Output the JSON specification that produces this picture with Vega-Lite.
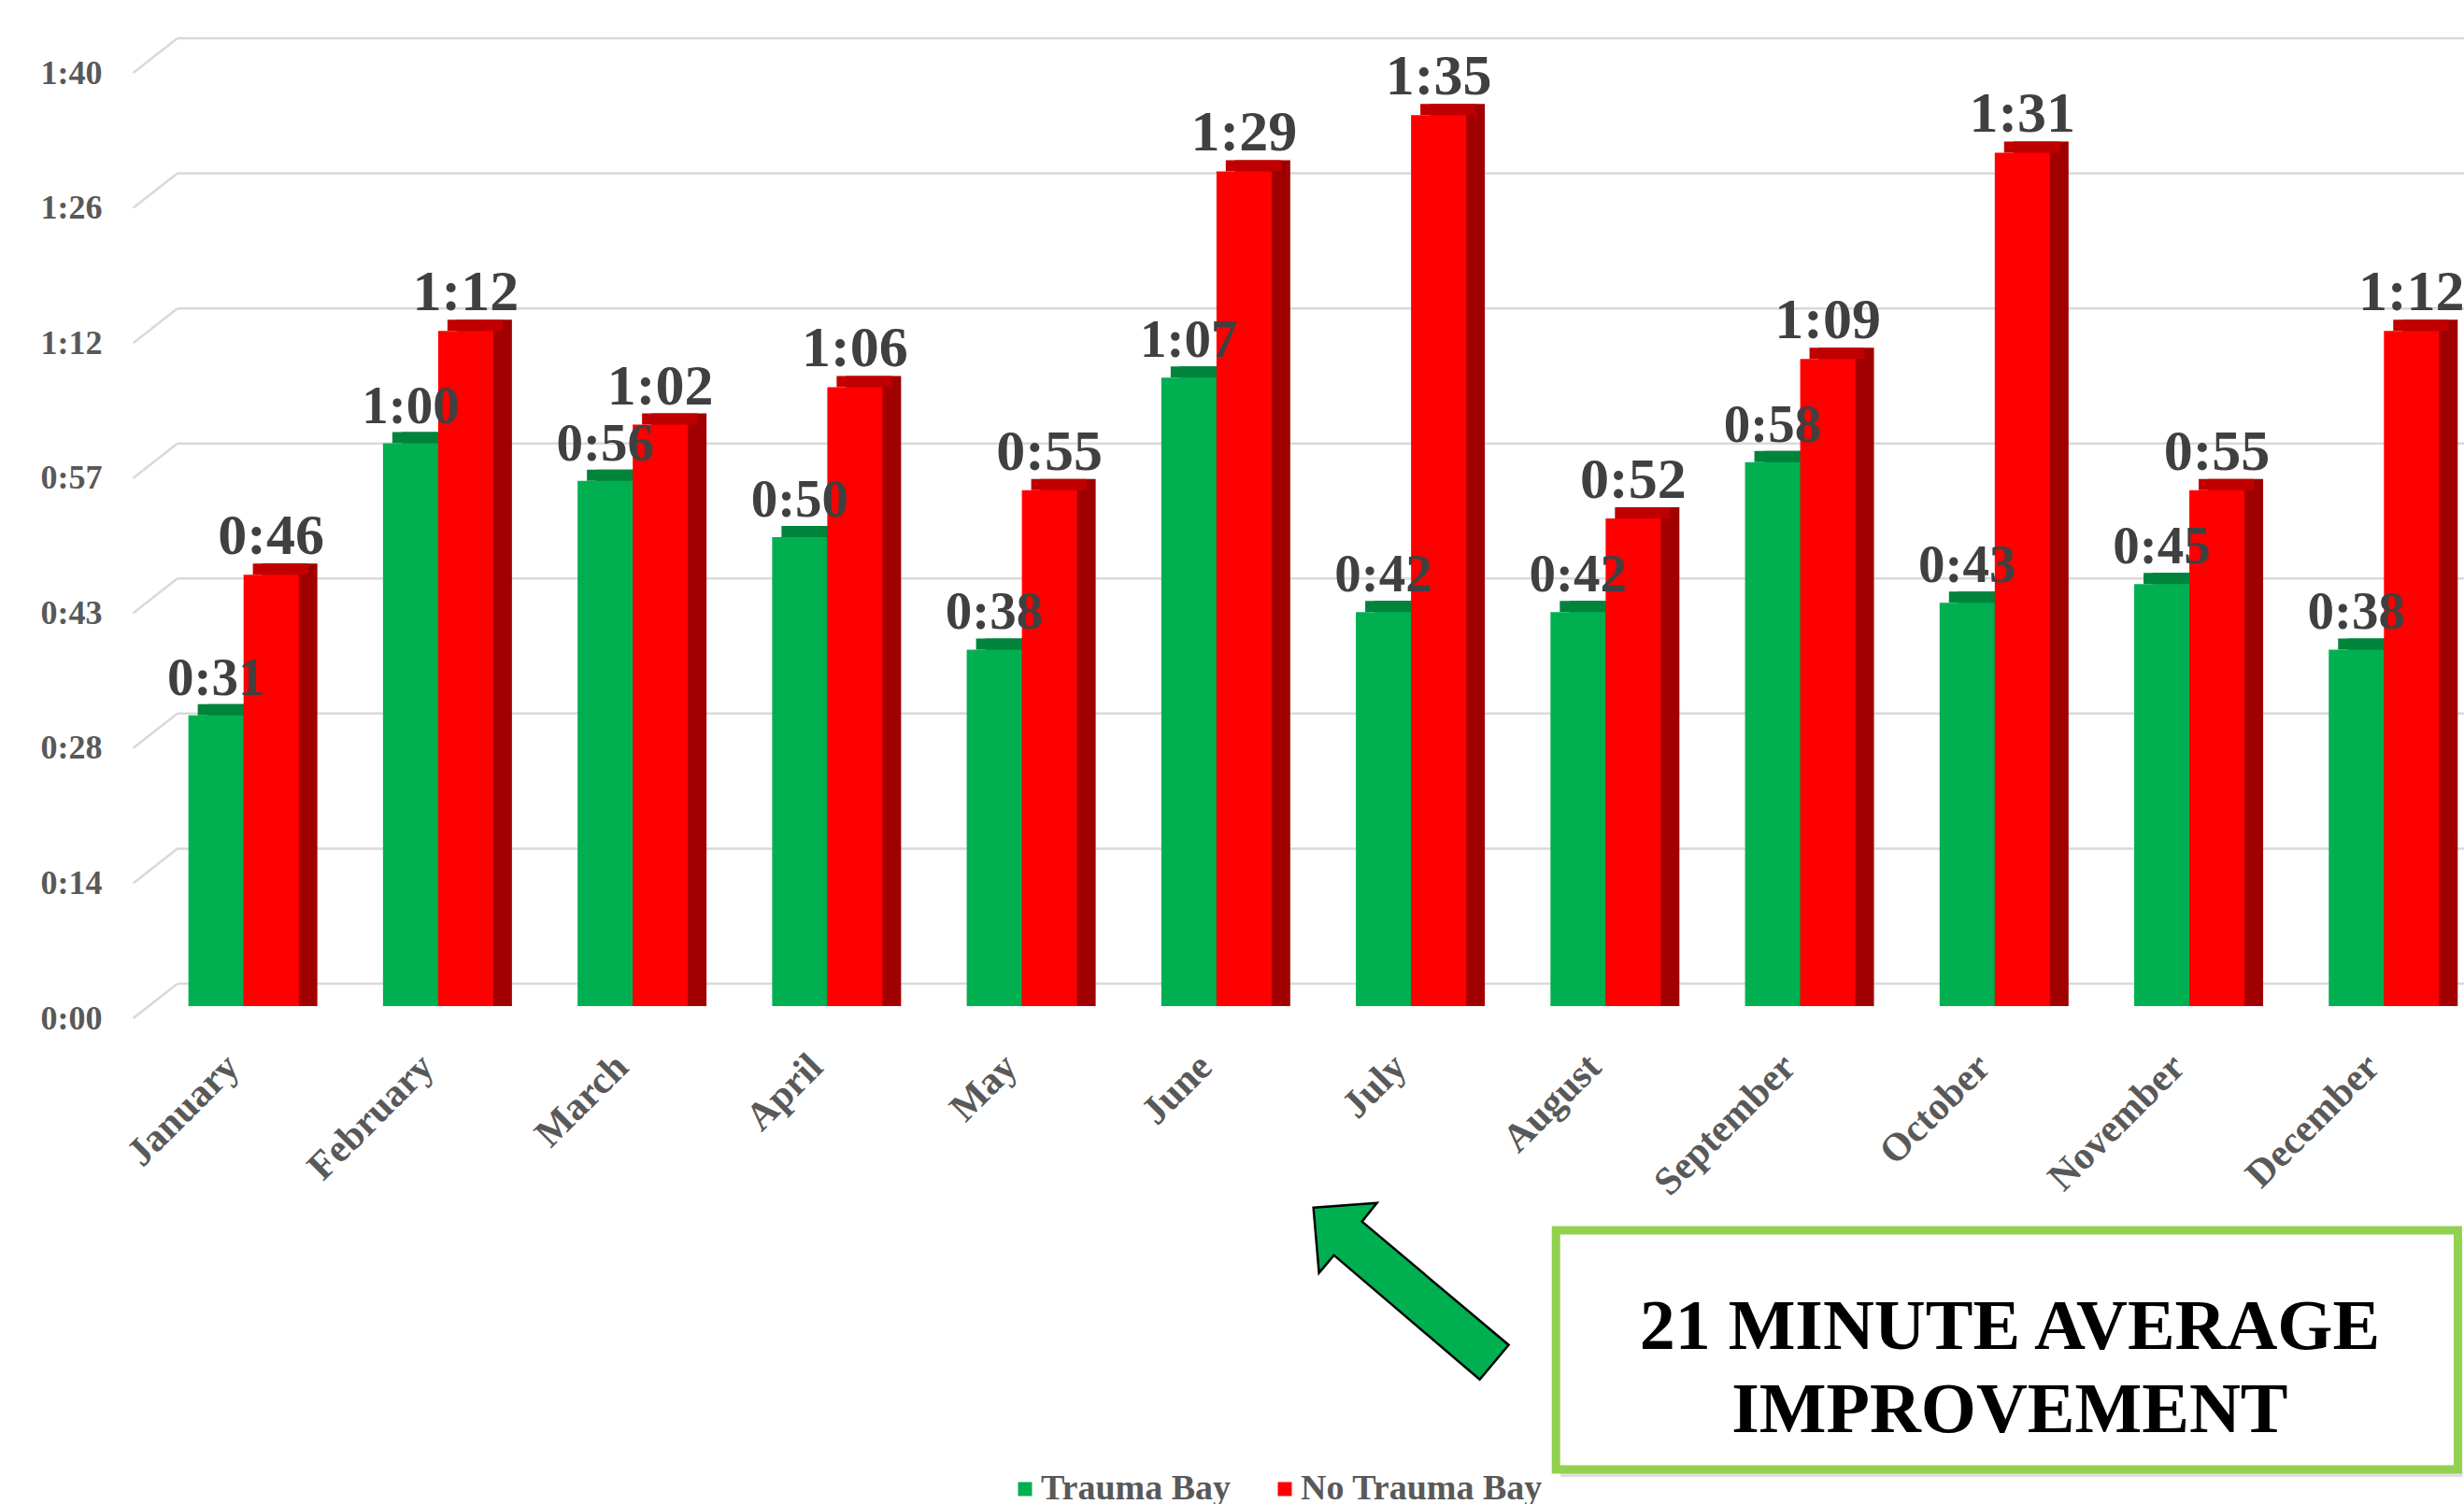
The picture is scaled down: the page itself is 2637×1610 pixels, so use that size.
{
  "$schema": "https://vega.github.io/schema/vega-lite/v6.json",
  "width": 2462,
  "height": 1012,
  "autosize": {"type": "none"},
  "padding": {"left": 175, "top": 65, "right": 0, "bottom": 533},
  "background": "white",
  "config": {
    "view": {"stroke": null},
    "font": "Liberation Serif",
    "axisX": {"labelAngle": -45, "labelFontSize": 42, "labelFontWeight": "bold", "labelColor": "#595959", "labelFont": "Liberation Serif", "domain": false, "ticks": false, "grid": false, "labelPadding": 44, "labelOffset": -26, "labelLimit": 0},
    "axisY": {"labelFontSize": 36, "labelFontWeight": "bold", "labelColor": "#595959", "labelFont": "Liberation Serif", "domain": false, "ticks": false, "grid": false, "labelPadding": 66, "labelOffset": 13}
  },
  "datasets": {
    "months": [
      {"month": "January", "series": "Trauma Bay", "minutes": 31, "label": "0:31"},
      {"month": "January", "series": "No Trauma Bay", "minutes": 46, "label": "0:46"},
      {"month": "February", "series": "Trauma Bay", "minutes": 60, "label": "1:00"},
      {"month": "February", "series": "No Trauma Bay", "minutes": 72, "label": "1:12"},
      {"month": "March", "series": "Trauma Bay", "minutes": 56, "label": "0:56"},
      {"month": "March", "series": "No Trauma Bay", "minutes": 62, "label": "1:02"},
      {"month": "April", "series": "Trauma Bay", "minutes": 50, "label": "0:50"},
      {"month": "April", "series": "No Trauma Bay", "minutes": 66, "label": "1:06"},
      {"month": "May", "series": "Trauma Bay", "minutes": 38, "label": "0:38"},
      {"month": "May", "series": "No Trauma Bay", "minutes": 55, "label": "0:55"},
      {"month": "June", "series": "Trauma Bay", "minutes": 67, "label": "1:07"},
      {"month": "June", "series": "No Trauma Bay", "minutes": 89, "label": "1:29"},
      {"month": "July", "series": "Trauma Bay", "minutes": 42, "label": "0:42"},
      {"month": "July", "series": "No Trauma Bay", "minutes": 95, "label": "1:35"},
      {"month": "August", "series": "Trauma Bay", "minutes": 42, "label": "0:42"},
      {"month": "August", "series": "No Trauma Bay", "minutes": 52, "label": "0:52"},
      {"month": "September", "series": "Trauma Bay", "minutes": 58, "label": "0:58"},
      {"month": "September", "series": "No Trauma Bay", "minutes": 69, "label": "1:09"},
      {"month": "October", "series": "Trauma Bay", "minutes": 43, "label": "0:43"},
      {"month": "October", "series": "No Trauma Bay", "minutes": 91, "label": "1:31"},
      {"month": "November", "series": "Trauma Bay", "minutes": 45, "label": "0:45"},
      {"month": "November", "series": "No Trauma Bay", "minutes": 55, "label": "0:55"},
      {"month": "December", "series": "Trauma Bay", "minutes": 38, "label": "0:38"},
      {"month": "December", "series": "No Trauma Bay", "minutes": 72, "label": "1:12"}
    ],
    "grid": [{"v": 0}, {"v": 14.4}, {"v": 28.8}, {"v": 43.2}, {"v": 57.6}, {"v": 72}, {"v": 86.4}, {"v": 100.8}],
    "note": [{"note": "21 MINUTE AVERAGE\nIMPROVEMENT"}]
  },
  "resolve": {"scale": {"xOffset": "independent"}},
  "layer": [
    {
      "data": {"name": "grid"},
      "mark": {"type": "rule", "color": "#D9D9D9", "strokeWidth": 2.5, "yOffset": -24},
      "encoding": {
        "y": {"field": "v", "type": "quantitative", "scale": {"domain": [0, 100.8], "nice": false}, "axis": {"title": null, "values": [0, 14.4, 28.8, 43.2, 57.6, 72, 86.4, 100.8], "labelExpr": "floor(datum.value/60) + ':' + (floor(datum.value%60) < 10 ? '0' : '') + floor(datum.value%60)"}},
        "x": {"datum": "January", "type": "nominal", "bandPosition": -0.1, "scale": {"domain": ["January","February","March","April","May","June","July","August","September","October","November","December"], "paddingInner": 0.433, "paddingOuter": 0.128}, "axis": {"title": null}},
        "x2": {"datum": "December", "bandPosition": 2}
      }
    },
    {
      "data": {"name": "grid"},
      "mark": {"type": "rule", "color": "#D9D9D9", "strokeWidth": 2.5, "yOffset": 13, "y2Offset": -24},
      "encoding": {
        "y": {"field": "v", "type": "quantitative", "scale": {"domain": [0, 100.8], "nice": false}, "axis": {"title": null, "values": [0, 14.4, 28.8, 43.2, 57.6, 72, 86.4, 100.8], "labelExpr": "floor(datum.value/60) + ':' + (floor(datum.value%60) < 10 ? '0' : '') + floor(datum.value%60)"}},
        "y2": {"field": "v"},
        "x": {"datum": "January", "type": "nominal", "bandPosition": -0.5, "scale": {"domain": ["January","February","March","April","May","June","July","August","September","October","November","December"], "paddingInner": 0.433, "paddingOuter": 0.128}, "axis": {"title": null}},
        "x2": {"datum": "January", "bandPosition": -0.1}
      }
    },
    {
      "data": {"name": "months"},
      "mark": {"type": "bar", "yOffset": -12, "y2Offset": -12},
      "encoding": {
        "x": {"field": "month", "type": "nominal", "scale": {"domain": ["January","February","March","April","May","June","July","August","September","October","November","December"], "paddingInner": 0.433, "paddingOuter": 0.128}, "axis": {"title": null}},
        "xOffset": {"field": "series", "type": "nominal", "scale": {"domain": ["Trauma Bay", "No Trauma Bay"], "range": [20, 138], "paddingInner": 0, "paddingOuter": 0}},
        "y": {"field": "minutes", "type": "quantitative", "stack": null, "scale": {"domain": [0, 100.8], "nice": false}, "axis": {"title": null, "values": [0, 14.4, 28.8, 43.2, 57.6, 72, 86.4, 100.8], "labelExpr": "floor(datum.value/60) + ':' + (floor(datum.value%60) < 10 ? '0' : '') + floor(datum.value%60)"}},
        "color": {"condition": {"test": "datum.series === 'Trauma Bay'", "value": "#007A36"}, "value": "#A00000"}
      }
    },
    {
      "data": {"name": "months"},
      "mark": {"type": "bar", "yOffset": -12, "y2Offset": 0},
      "encoding": {
        "x": {"field": "month", "type": "nominal", "scale": {"domain": ["January","February","March","April","May","June","July","August","September","October","November","December"], "paddingInner": 0.433, "paddingOuter": 0.128}, "axis": {"title": null}},
        "xOffset": {"field": "series", "type": "nominal", "scale": {"domain": ["Trauma Bay", "No Trauma Bay"], "range": [10, 128], "paddingInner": 0, "paddingOuter": 0}},
        "y": {"field": "minutes", "type": "quantitative", "stack": null, "scale": {"domain": [0, 100.8], "nice": false}, "axis": {"title": null, "values": [0, 14.4, 28.8, 43.2, 57.6, 72, 86.4, 100.8], "labelExpr": "floor(datum.value/60) + ':' + (floor(datum.value%60) < 10 ? '0' : '') + floor(datum.value%60)"}},
        "y2": {"field": "minutes"},
        "color": {"condition": {"test": "datum.series === 'Trauma Bay'", "value": "#00843C"}, "value": "#C00000"}
      }
    },
    {
      "data": {"name": "months"},
      "mark": {"type": "bar"},
      "encoding": {
        "x": {"field": "month", "type": "nominal", "scale": {"domain": ["January","February","March","April","May","June","July","August","September","October","November","December"], "paddingInner": 0.433, "paddingOuter": 0.128}, "axis": {"title": null}},
        "xOffset": {"field": "series", "type": "nominal", "scale": {"domain": ["Trauma Bay", "No Trauma Bay"], "paddingInner": 0, "paddingOuter": 0}},
        "y": {"field": "minutes", "type": "quantitative", "stack": null, "scale": {"domain": [0, 100.8], "nice": false}, "axis": {"title": null, "values": [0, 14.4, 28.8, 43.2, 57.6, 72, 86.4, 100.8], "labelExpr": "floor(datum.value/60) + ':' + (floor(datum.value%60) < 10 ? '0' : '') + floor(datum.value%60)"}},
        "color": {"field": "series", "type": "nominal", "scale": {"domain": ["Trauma Bay", "No Trauma Bay"], "range": ["#00B050", "#FF0000"]},
          "legend": {"orient": "none", "legendX": 903, "legendY": 1510, "direction": "horizontal", "title": null, "symbolType": "square", "symbolSize": 225, "symbolStrokeWidth": 0, "labelFontSize": 38, "labelFontWeight": "bold", "labelColor": "#595959", "labelFont": "Liberation Serif", "labelOffset": -2, "labelLimit": 0, "columnPadding": 38, "padding": 0}}
      }
    },
    {
      "data": {"name": "months"},
      "transform": [{"filter": "datum.series === 'Trauma Bay'"}],
      "mark": {"type": "text", "fontSize": 57, "fontWeight": "bold", "color": "#404040", "baseline": "alphabetic", "dy": -22, "font": "Liberation Serif"},
      "encoding": {
        "x": {"field": "month", "type": "nominal", "scale": {"domain": ["January","February","March","April","May","June","July","August","September","October","November","December"], "paddingInner": 0.433, "paddingOuter": 0.128}, "axis": {"title": null}},
        "xOffset": {"field": "series", "type": "nominal", "scale": {"type": "point", "domain": ["Trauma Bay", "No Trauma Bay"], "range": [29.5, 88.5], "padding": 0}},
        "y": {"field": "minutes", "type": "quantitative", "scale": {"domain": [0, 100.8], "nice": false}, "axis": {"title": null, "values": [0, 14.4, 28.8, 43.2, 57.6, 72, 86.4, 100.8], "labelExpr": "floor(datum.value/60) + ':' + (floor(datum.value%60) < 10 ? '0' : '') + floor(datum.value%60)"}},
        "text": {"field": "label"}
      }
    },
    {
      "data": {"name": "months"},
      "transform": [{"filter": "datum.series === 'No Trauma Bay'"}],
      "mark": {"type": "text", "fontSize": 62, "fontWeight": "bold", "color": "#404040", "baseline": "alphabetic", "dy": -22, "font": "Liberation Serif"},
      "encoding": {
        "x": {"field": "month", "type": "nominal", "scale": {"domain": ["January","February","March","April","May","June","July","August","September","October","November","December"], "paddingInner": 0.433, "paddingOuter": 0.128}, "axis": {"title": null}},
        "xOffset": {"field": "series", "type": "nominal", "scale": {"type": "point", "domain": ["Trauma Bay", "No Trauma Bay"], "range": [29.5, 88.5], "padding": 0}},
        "y": {"field": "minutes", "type": "quantitative", "scale": {"domain": [0, 100.8], "nice": false}, "axis": {"title": null, "values": [0, 14.4, 28.8, 43.2, 57.6, 72, 86.4, 100.8], "labelExpr": "floor(datum.value/60) + ':' + (floor(datum.value%60) < 10 ? '0' : '') + floor(datum.value%60)"}},
        "text": {"field": "label"}
      }
    },
    {
      "data": {"name": "note"},
      "mark": {"type": "rect", "color": "#C8C8C8", "opacity": 0.6, "xOffset": 5, "x2Offset": 5, "yOffset": 8, "y2Offset": 8},
      "encoding": {
        "x": {"datum": "August", "type": "nominal", "bandPosition": 0.05, "scale": {"domain": ["January","February","March","April","May","June","July","August","September","October","November","December"], "paddingInner": 0.433, "paddingOuter": 0.128}, "axis": {"title": null}},
        "x2": {"datum": "December", "bandPosition": 1.17},
        "y": {"datum": -23.9, "type": "quantitative", "scale": {"domain": [0, 100.8], "nice": false}, "axis": {"title": null, "values": [0, 14.4, 28.8, 43.2, 57.6, 72, 86.4, 100.8], "labelExpr": "floor(datum.value/60) + ':' + (floor(datum.value%60) < 10 ? '0' : '') + floor(datum.value%60)"}},
        "y2": {"datum": -49.4}
      }
    },
    {
      "data": {"name": "note"},
      "mark": {"type": "rect", "fill": "white", "stroke": "#92D050", "strokeWidth": 9},
      "encoding": {
        "x": {"datum": "August", "type": "nominal", "bandPosition": 0.05, "scale": {"domain": ["January","February","March","April","May","June","July","August","September","October","November","December"], "paddingInner": 0.433, "paddingOuter": 0.128}, "axis": {"title": null}},
        "x2": {"datum": "December", "bandPosition": 1.17},
        "y": {"datum": -23.9, "type": "quantitative", "scale": {"domain": [0, 100.8], "nice": false}, "axis": {"title": null, "values": [0, 14.4, 28.8, 43.2, 57.6, 72, 86.4, 100.8], "labelExpr": "floor(datum.value/60) + ':' + (floor(datum.value%60) < 10 ? '0' : '') + floor(datum.value%60)"}},
        "y2": {"datum": -49.4}
      }
    },
    {
      "data": {"name": "note"},
      "mark": {"type": "text", "fontSize": 76, "fontWeight": "bold", "color": "black", "font": "Liberation Serif", "align": "center", "baseline": "middle", "lineBreak": "\n", "lineHeight": 89},
      "encoding": {
        "x": {"datum": "October", "type": "nominal", "bandPosition": 0.636, "scale": {"domain": ["January","February","March","April","May","June","July","August","September","October","November","December"], "paddingInner": 0.433, "paddingOuter": 0.128}, "axis": {"title": null}},
        "y": {"datum": -34.3, "type": "quantitative", "scale": {"domain": [0, 100.8], "nice": false}, "axis": {"title": null, "values": [0, 14.4, 28.8, 43.2, 57.6, 72, 86.4, 100.8], "labelExpr": "floor(datum.value/60) + ':' + (floor(datum.value%60) < 10 ? '0' : '') + floor(datum.value%60)"}},
        "text": {"field": "note"}
      }
    },
    {
      "data": {"name": "note"},
      "mark": {"type": "point", "shape": "M -0.995 -0.852 L -0.348 -0.9 L -0.5 -0.71 L 0.995 0.548 L 0.7 0.9 L -0.786 -0.367 L -0.938 -0.186 Z", "size": 44100, "filled": true, "fill": "#00B050", "stroke": "black", "strokeWidth": 2.5, "opacity": 1},
      "encoding": {
        "x": {"datum": "July", "type": "nominal", "scale": {"domain": ["January","February","March","April","May","June","July","August","September","October","November","December"], "paddingInner": 0.433, "paddingOuter": 0.128}, "axis": {"title": null}},
        "y": {"datum": -30.4, "type": "quantitative", "scale": {"domain": [0, 100.8], "nice": false}, "axis": {"title": null, "values": [0, 14.4, 28.8, 43.2, 57.6, 72, 86.4, 100.8], "labelExpr": "floor(datum.value/60) + ':' + (floor(datum.value%60) < 10 ? '0' : '') + floor(datum.value%60)"}}
      }
    }
  ]
}
